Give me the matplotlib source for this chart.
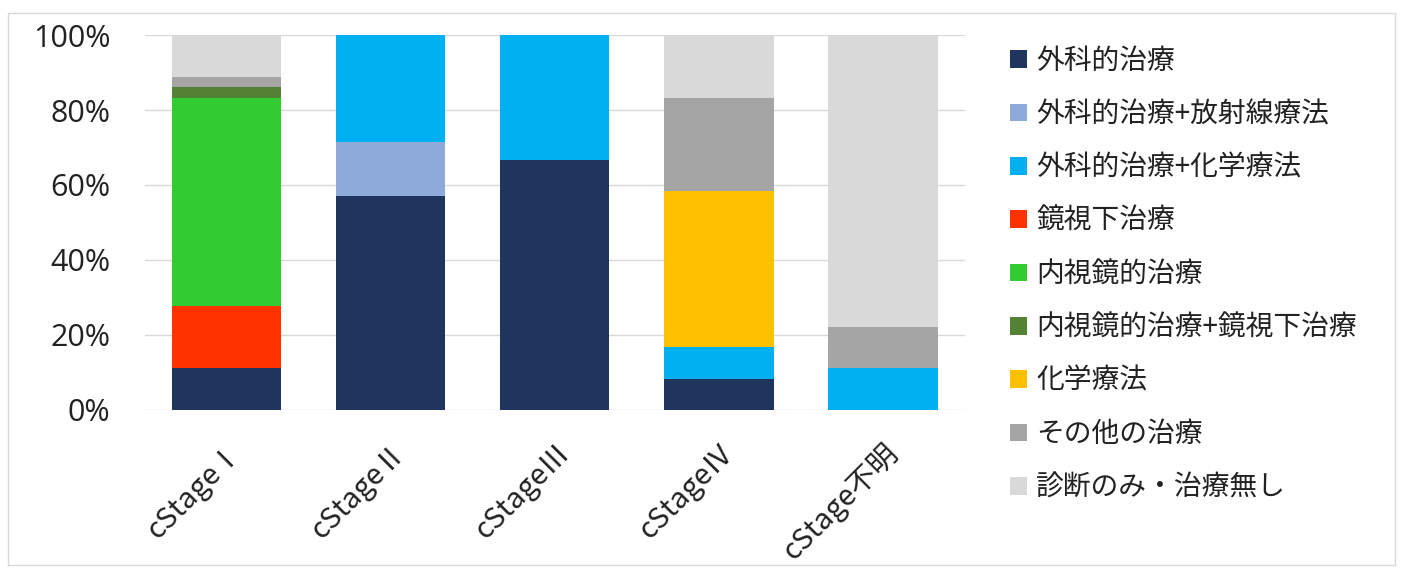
import matplotlib
matplotlib.use("Agg")
import matplotlib.pyplot as plt
from matplotlib.patches import Rectangle
import numpy as np

plt.rcParams['font.family'] = ['Noto Sans CJK JP', 'DejaVu Sans']

categories = ["cStageⅠ", "cStageⅡ", "cStageⅢ", "cStageⅣ", "cStage不明"]
series_names = ["外科的治療", "外科的治療+放射線療法", "外科的治療+化学療法", "鏡視下治療",
                "内視鏡的治療", "内視鏡的治療+鏡視下治療", "化学療法", "その他の治療", "診断のみ・治療無し"]
surgery          = [11.1, 57.1, 66.7, 8.3, 0.0]
surgery_radio    = [0.0, 14.3, 0.0, 0.0, 0.0]
surgery_chemo    = [0.0, 28.6, 33.3, 8.4, 11.1]
laparoscopic     = [16.7, 0.0, 0.0, 0.0, 0.0]
endoscopic       = [55.5, 0.0, 0.0, 0.0, 0.0]
endo_lap         = [2.8, 0.0, 0.0, 0.0, 0.0]
chemo            = [0.0, 0.0, 0.0, 41.6, 0.0]
other            = [2.8, 0.0, 0.0, 25.0, 11.1]
diagnosis_only   = [11.1, 0.0, 0.0, 16.7, 77.8]
series_values = [surgery, surgery_radio, surgery_chemo, laparoscopic, endoscopic,
                 endo_lap, chemo, other, diagnosis_only]
colors = ["#1f355e", "#8eaadb", "#00b0f0", "#ff3300", "#33cc33",
          "#548235", "#ffc000", "#a5a5a5", "#d9d9d9"]
yticks = [0, 20, 40, 60, 80, 100]

fig = plt.figure(figsize=(14.03, 5.73), dpi=100)
ax = fig.add_axes([0.1033, 0.2845, 0.5845, 0.6544])

x = np.arange(len(categories))
bottom = np.zeros(len(categories))
handles = []
for name, vals, c in zip(series_names, series_values, colors):
    v = np.array(vals)
    b = ax.bar(x, v, width=0.665, bottom=bottom, color=c, label=name, zorder=3)
    bottom += v
    handles.append(b)

ax.set_xlim(-0.5, 4.5)
ax.set_ylim(0, 100)
ax.set_yticks(yticks)
ax.set_yticklabels([f"{t}%" for t in yticks], fontsize=22, color="#222222",
                   family=['Open Sans', 'DejaVu Sans'])
ax.set_xticks(x)
ax.set_xticklabels(categories, rotation=45, ha='right', rotation_mode='anchor',
                   fontsize=21, color="#222222")
ax.tick_params(axis='both', length=0)
ax.tick_params(axis='y', pad=25)
ax.tick_params(axis='x', pad=20)
ax.grid(axis='y', color="#d9d9d9", linewidth=1, zorder=0)
for s in ax.spines.values():
    s.set_visible(False)

leg = fig.legend(handles=handles, loc='upper left', bbox_to_anchor=(1010/1403, 1 - 46/573),
                 frameon=False, fontsize=20, handlelength=0.6, handleheight=0.6,
                 handletextpad=0.35, labelspacing=0.84, borderaxespad=0, borderpad=0)
for t in leg.get_texts():
    t.set_color("#222222")

fig.patches.append(Rectangle((8/1403, 8/573), 1387/1403, 552/573, transform=fig.transFigure,
                             fill=False, edgecolor="#d9d9d9", linewidth=1))

fig.savefig("out.png", dpi=100)
